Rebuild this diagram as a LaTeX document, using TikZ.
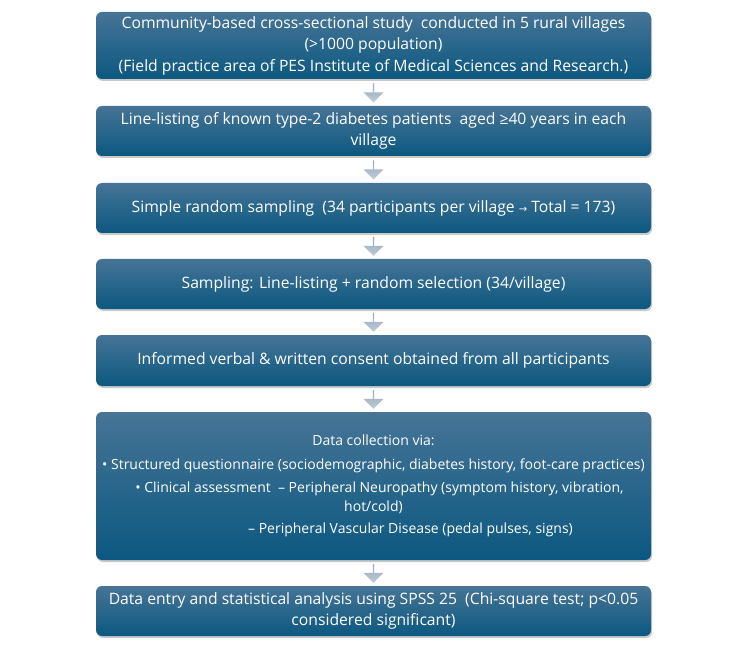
\documentclass[tikz,border=0pt]{standalone}
\usepackage{fontspec}
\setmainfont{Open Sans}
\newfontfamily\symfont{DejaVu Sans}
\usetikzlibrary{shadows,shapes.arrows,calc}
\definecolor{boxtop}{RGB}{70,116,150}
\definecolor{boxbot}{RGB}{12,88,128}
\definecolor{arrtop}{RGB}{150,168,186}
\definecolor{arrbot}{RGB}{192,204,214}
\begin{document}
\begin{tikzpicture}[x=1pt,y=-1pt,
  stepbox/.style={rectangle, rounded corners=6pt, minimum width=555pt,
    top color=boxtop, bottom color=boxbot, draw=none, text=white,
    align=center, font=\fontsize{15.7}{21}\selectfont, inner sep=0pt,
    drop shadow={shadow xshift=1pt, shadow yshift=-2pt, opacity=0.3, fill=black!70}},
  downarrow/.style={single arrow, shape border rotate=270, minimum width=20pt,
    single arrow head extend=3pt, minimum height=19pt, inner sep=0pt,
    top color=arrtop, bottom color=arrbot, draw=none}]
\useasboundingbox (0,0) rectangle (750,655);
\node[stepbox, minimum height=67pt] (b1) at (373.5,45.5)
  {Community-based cross-sectional study\ \ conducted in 5 rural villages\\
   (>1000 population)\\[1pt]
   (Field practice area of PES Institute of Medical Sciences and Research.)};
\node[stepbox, minimum height=50pt] (b2) at (373.5,131)
  {Line-listing of known type-2 diabetes patients\ \ aged ≥40 years in each\\ village};
\node[stepbox, minimum height=50pt] (b3) at (373.5,208)
  {Simple random sampling\ \ (34 participants per village {\symfont\fontsize{10}{10}\selectfont →} Total = 173)};
\node[stepbox, minimum height=50pt] (b4) at (373.5,284)
  {Sampling: Line-listing + random selection (34/village)};
\node[stepbox, minimum height=51pt] (b5) at (373.5,360.5)
  {Informed verbal \& written consent obtained from all participants};
\node[stepbox, minimum height=148pt, font=\fontsize{14}{18.5}\selectfont] (b6) at (373.5,486)
  {Data collection via:\\[5pt]
   • Structured questionnaire (sociodemographic, diabetes history, foot-care practices)\\[5pt]
   \hspace*{12pt}• Clinical assessment\ \ – Peripheral Neuropathy (symptom history, vibration,\\
   hot/cold)\\[4pt]
   \hspace*{74pt}– Peripheral Vascular Disease (pedal pulses, signs)};
\node[stepbox, minimum height=50pt] (b7) at (373.5,611)
  {Data entry and statistical analysis using SPSS 25\ \ (Chi-square test; p<0.05\\
   considered significant)};
\node[downarrow] (a1) at ($(b1.south)!0.5!(b2.north)$) {};
\node[downarrow] (a2) at ($(b2.south)!0.5!(b3.north)$) {};
\node[downarrow] (a3) at ($(b3.south)!0.5!(b4.north)$) {};
\node[downarrow] (a4) at ($(b4.south)!0.5!(b5.north)$) {};
\node[downarrow] (a5) at ($(b5.south)!0.5!(b6.north)$) {};
\node[downarrow] (a6) at ($(b6.south)!0.5!(b7.north)$) {};
\end{tikzpicture}
\end{document}
